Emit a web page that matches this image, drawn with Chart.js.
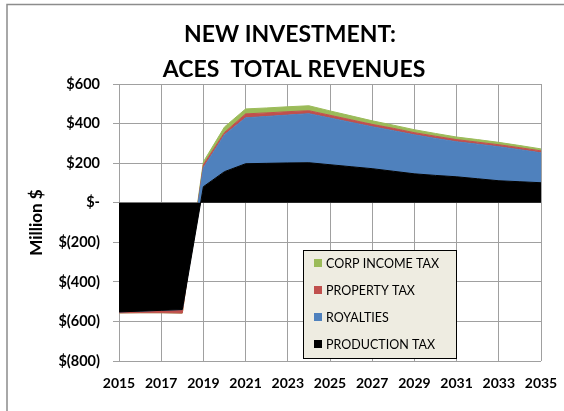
<!DOCTYPE html>
<html>
<head>
<meta charset="utf-8">
<script src="https://cdn.jsdelivr.net/npm/chart.js@4"></script>
<style>
  html, body { margin: 0; padding: 0; background: #fff; }
  #wrap { width: 564px; height: 411px; }
</style>
</head>
<body>
<div id="wrap"><canvas id="revChart" width="564" height="411"></canvas></div>
<script>
// annual revenue components, million $
const years = [2015, 2016, 2017, 2018, 2019, 2020, 2021, 2022, 2023, 2024, 2025,
               2026, 2027, 2028, 2029, 2030, 2031, 2032, 2033, 2034, 2035];
const productionTax = [-552, -548, -544, -540, 81, 157, 197, 199, 201, 202, 192,
                       182, 172, 159, 146, 138, 131, 121, 111, 106, 101];
const royalties = [0, 0, 0, 0, 96, 186, 232, 237, 242, 248, 236,
                   224, 212, 205, 197, 187, 177, 175, 172, 162, 151];
const propertyTax = [-5, -8, -12, -18, 15, 12, 20, 18, 17, 15, 14,
                     13, 12, 12, 11, 11, 11, 10, 10, 10, 10];
const corpIncomeTax = [0, 0, 0, 0, 15, 28, 25, 25, 25, 25, 22,
                       20, 18, 16, 15, 14, 13, 13, 12, 11, 10];
const yTicks = [600, 400, 200, 0, -200, -400, -600, -800];

const FONT = 'Lato, "Open Sans", sans-serif';

function pts(arr) {
    return years.map((yr, i) => ({ x: yr, y: arr[i] }));
}

function money(v) {
    if (v === 0) return '$-';
    if (v < 0) return '$(' + Math.abs(v) + ')';
    return '$' + v;
}

function area(label, arr, color, fill) {
    return {
        label, data: pts(arr), fill,
        backgroundColor: color, borderColor: color, borderWidth: 1,
        pointRadius: 0, tension: 0
    };
}

// frame, title and boxed legend inside the plot
const extras = {
    id: 'extras',
    beforeDraw(chart) {
        const ctx = chart.ctx;
        ctx.save();
        ctx.strokeStyle = '#8c8c8c';
        ctx.lineWidth = 1.5;
        ctx.beginPath();
        ctx.moveTo(7, 411);
        ctx.lineTo(7, 4.5);
        ctx.lineTo(564, 4.5);
        ctx.stroke();
        ctx.restore();
    },
    afterDraw(chart) {
        const ctx = chart.ctx;
        ctx.save();
        ctx.fillStyle = '#000';
        ctx.textAlign = 'center';
        ctx.textBaseline = 'middle';
        ctx.font = 'bold 23px ' + FONT;
        ctx.fillText('NEW INVESTMENT:', 290, 35);
        ctx.fillText('ACES  TOTAL REVENUES', 294, 70);

        const bx = 303.5, by = 250.5, bw = 153, bh = 108;
        ctx.fillStyle = '#eeece1';
        ctx.fillRect(bx, by, bw, bh);
        ctx.strokeStyle = '#000';
        ctx.lineWidth = 1;
        ctx.strokeRect(bx, by, bw, bh);

        const items = chart.data.datasets.slice().reverse();
        ctx.textAlign = 'left';
        ctx.font = '12.5px ' + FONT;
        items.forEach((ds, i) => {
            const cy = 263 + i * 27;
            ctx.fillStyle = ds.backgroundColor;
            ctx.fillRect(314, cy - 4, 8, 8);
            ctx.fillStyle = '#000';
            ctx.fillText(ds.label, 326, cy + 0.5);
        });
        ctx.restore();
    }
};

new Chart(document.getElementById('revChart'), {
    type: 'line',
    data: {
        datasets: [
            area('PRODUCTION TAX', productionTax, '#000000', 'origin'),
            area('ROYALTIES', royalties, '#4f81bd', '-1'),
            area('PROPERTY TAX', propertyTax, '#c0504d', '-1'),
            area('CORP INCOME TAX', corpIncomeTax, '#9bbb59', '-1')
        ]
    },
    options: {
        responsive: false,
        animation: false,
        layout: { padding: { top: 84, right: 23, bottom: 0, left: 0 } },
        plugins: {
            legend: { display: false },
            title: { display: false },
            tooltip: { enabled: false }
        },
        scales: {
            x: {
                type: 'linear',
                min: 2015, max: 2035,
                grid: { color: '#a0a0a0', drawTicks: false },
                border: { display: false },
                ticks: {
                    stepSize: 2, padding: 14, color: '#000',
                    font: { family: FONT, size: 14, weight: 'bold' },
                    callback: v => String(v)
                },
                afterFit(scale) {
                    scale.height = 50;
                    scale.paddingLeft = 0;
                    scale.paddingRight = 0;
                }
            },
            y: {
                stacked: true,
                min: -800, max: 600,
                grid: { color: '#a0a0a0', tickLength: 6 },
                border: { display: false },
                afterBuildTicks(scale) {
                    scale.ticks = yTicks.map(v => ({ value: v }));
                },
                ticks: {
                    padding: 13, color: '#000',
                    font: { family: FONT, size: 14.5, weight: 'bold' },
                    callback: v => money(v)
                },
                title: {
                    display: true, text: 'Million $', color: '#000',
                    font: { family: FONT, size: 17, weight: 'bold' },
                    padding: { top: 26, bottom: 0 }
                },
                afterFit(scale) {
                    scale.width = 119;
                }
            }
        }
    },
    plugins: [extras]
});
</script>
</body>
</html>
